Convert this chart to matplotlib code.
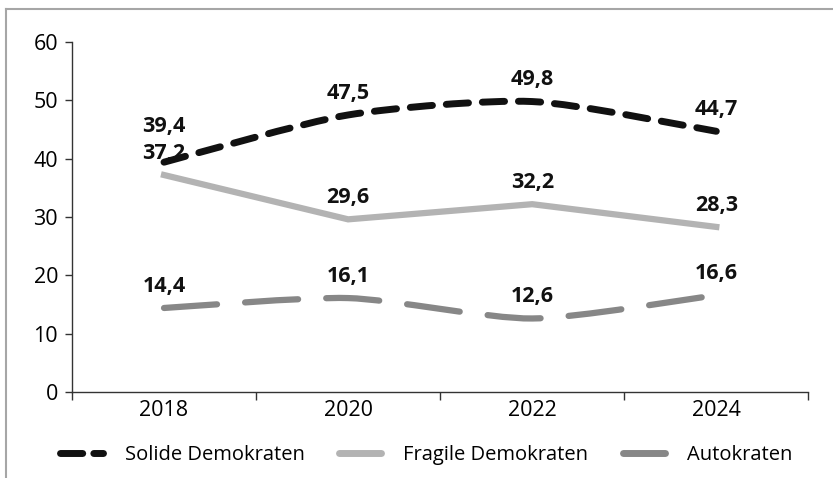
import numpy as np
import matplotlib
matplotlib.use("Agg")
import matplotlib.pyplot as plt
from matplotlib.path import Path
from matplotlib.patches import PathPatch
from matplotlib.lines import Line2D

plt.rcParams["font.family"] = ["Open Sans", "DejaVu Sans"]

YEARS = ["2018", "2020", "2022", "2024"]
SOLIDE = [39.4, 47.5, 49.8, 44.7]
FRAGILE = [37.2, 29.6, 32.2, 28.3]
AUTOKRATEN = [14.4, 16.1, 12.6, 16.6]


def smooth_path(x, y, tension=0.12):
    """Cubic Bezier path through the points (Catmull-Rom style tangents)."""
    pts = np.column_stack([x, y]).astype(float)
    verts = [pts[0]]
    codes = [Path.MOVETO]
    n = len(pts)
    for i in range(n - 1):
        p0 = pts[max(i - 1, 0)]
        p1 = pts[i]
        p2 = pts[i + 1]
        p3 = pts[min(i + 2, n - 1)]
        c1 = p1 + (p2 - p0) * tension
        c2 = p2 - (p3 - p1) * tension
        verts += [c1, c2, p2]
        codes += [Path.CURVE4] * 3
    return Path(verts, codes)


fig = plt.figure(figsize=(8.33, 4.78), dpi=100)
ax = fig.add_axes([0.0864, 0.180, 0.884, 0.732])

x = np.arange(len(YEARS))

black = "#111111"
light = "#b3b3b3"
dark = "#878787"

ax.add_patch(PathPatch(smooth_path(x, SOLIDE), fill=False, edgecolor=black,
                       lw=5, linestyle=(0, (3.2, 2.0)), capstyle="round",
                       zorder=4))
ax.plot(x, FRAGILE, color=light, lw=4.5, solid_joinstyle="miter", zorder=3)
ax.add_patch(PathPatch(smooth_path(x, AUTOKRATEN), fill=False, edgecolor=dark,
                       lw=4.5, linestyle=(0, (8.5, 4.5)), capstyle="round",
                       zorder=3))

label_kw = dict(textcoords="offset points", ha="center", va="bottom",
                fontsize=15.5, fontweight="bold", color="#111111", zorder=6)
for i, (xi, v) in enumerate(zip(x, SOLIDE)):
    dy = 18 if i == 0 else 8
    ax.annotate(f"{v:.1f}".replace(".", ","), (xi, v), xytext=(0, dy), **label_kw)
for xi, v in zip(x, FRAGILE):
    ax.annotate(f"{v:.1f}".replace(".", ","), (xi, v), xytext=(0, 8), **label_kw)
for xi, v in zip(x, AUTOKRATEN):
    ax.annotate(f"{v:.1f}".replace(".", ","), (xi, v), xytext=(0, 8), **label_kw)

ax.set_xlim(-0.5, len(YEARS) - 0.5)
ax.set_ylim(0, 60)
ax.set_yticks(range(0, 61, 10))
ax.set_xticks(np.arange(-0.5, len(YEARS), 1.0))
ax.set_xticklabels([])
ax.set_xticks(x, minor=True)
ax.set_xticklabels(YEARS, minor=True)
ax.tick_params(axis="x", which="major", length=6, width=1, color="#333333")
ax.tick_params(axis="x", which="minor", length=0, labelsize=15.5, pad=6)
ax.tick_params(axis="y", length=5, width=1, color="#333333", labelsize=15.5, pad=5)
for s in ["top", "right"]:
    ax.spines[s].set_visible(False)
for s in ["left", "bottom"]:
    ax.spines[s].set_color("#333333")
    ax.spines[s].set_linewidth(1)

handles = [
    Line2D([], [], color=black, lw=5, linestyle=(0, (3.2, 1.6)),
           dash_capstyle="round"),
    Line2D([], [], color=light, lw=5, solid_capstyle="round"),
    Line2D([], [], color=dark, lw=5, solid_capstyle="round"),
]
fig.legend(handles, ["Solide Demokraten", "Fragile Demokraten", "Autokraten"],
           loc="center", bbox_to_anchor=(0.512, 0.048), ncol=3, frameon=False,
           fontsize=14.5, handlelength=2.1, columnspacing=1.7, handletextpad=1.1)

# outer frame lines along top and left edge
fig.add_artist(Line2D([6 / 833, 1], [1 - 9 / 478, 1 - 9 / 478],
                      color="#a6a6a6", lw=1.5, transform=fig.transFigure))
fig.add_artist(Line2D([6 / 833, 6 / 833], [0, 1 - 9 / 478],
                      color="#a6a6a6", lw=1.5, transform=fig.transFigure))

fig.savefig("out.png", dpi=100)
